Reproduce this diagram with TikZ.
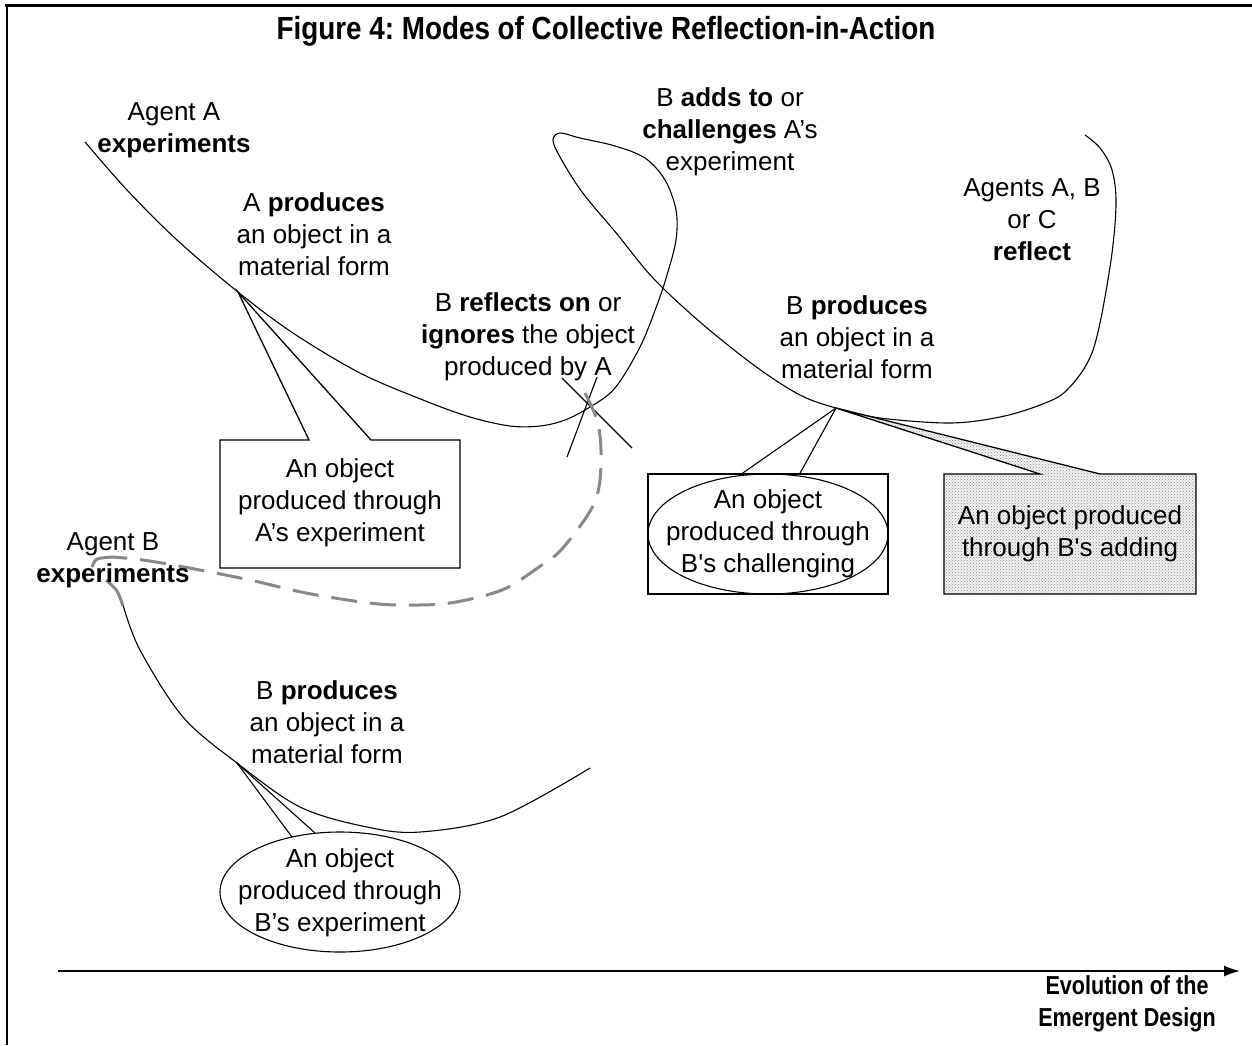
\documentclass[tikz,border=0pt]{standalone}
\usepackage{fontspec}
\setmainfont{Liberation Sans}
\newfontfamily\titlefont[FakeStretch=0.87]{Liberation Sans}
\newfontfamily\evofont[FakeStretch=0.83]{Liberation Sans}
\usetikzlibrary{arrows.meta,shapes.geometric,patterns}
\definecolor{dashgray}{HTML}{888888}
\frenchspacing
\begin{document}
\begin{tikzpicture}[x=1pt,y=-1pt,
  txt/.style={align=center,inner sep=0pt,font=\fontsize{26}{32}\selectfont},
  curveline/.style={line width=1.1pt,black},
  boxline/.style={line width=1.3pt,black},
  stipple/.style={preaction={fill=black!5},pattern=crosshatch dots,pattern color=black!45}]
\useasboundingbox (0,0) rectangle (1252,1045);
% frame
\draw[line width=3pt] (5,5) -- (1252,5);
\draw[line width=2pt] (7,4) -- (7,1045);
% title
\node[inner sep=0pt,font=\titlefont\bfseries\fontsize{32}{38}\selectfont] (title) at (606,31) {Figure 4: Modes of Collective Reflection-in-Action};
% axis
\coordinate (axL) at (58,971);
\coordinate (axR) at (1240,971);
\draw[line width=1.6pt,-{Latex[length=16pt,width=11pt]}] (axL) -- (axR);
\node[align=center,inner sep=0pt,font=\evofont\bfseries\fontsize{26}{32}\selectfont] (evo) at (1127,1004) {Evolution of the\\Emergent Design};
% junctions
\coordinate (jA) at (238,292);
\coordinate (jB) at (836,408);
\coordinate (jC) at (237,763);
% main curve
\draw[curveline] plot[smooth,tension=0.55] coordinates {(85,142) (127,190) (177,240) (238,292) (293,333) (360,373) (423,400) (470,417) (510,426) (540,426) (565,420) (590,407) (615,388) (640,347) (657,305) (667,275) (676,240) (676,210) (665,180) (645,158) (615,146) (580,138) (560,133) (553,140) (560,157) (582,192) (617,234) (653,278) (700,322) (755,366) (800,395) (836,408) (880,418) (950,423) (1000,417) (1040,405) (1067,390) (1093,350) (1110,267) (1116,205) (1112,170) (1100,148) (1085,135)};
% crossing lines
\coordinate (x1a) at (562,378); \coordinate (x1b) at (632,448);
\coordinate (x2a) at (597,377); \coordinate (x2b) at (567,457);
\draw[curveline] (x1a) -- (x1b);
\draw[curveline] (x2a) -- (x2b);
% dashed gray curve
\draw[dashgray,line width=3pt,dash pattern=on 26pt off 13pt] plot[smooth,tension=0.55] coordinates {(585,393) (597,420) (601,450) (599,487) (589,513) (561,550) (539,567) (502,590) (450,603) (406,605) (369,603) (306,593) (250,580) (184,567) (143,560) (113,557)};
\draw[dashgray,line width=3pt] plot[smooth] coordinates {(113,557) (97,559) (92,567)};
% lower curve
\draw[curveline] plot[smooth,tension=0.55] coordinates {(123,605) (140,650) (183,717) (237,763) (300,807) (367,827) (420,832) (500,817) (590,768)};
\draw[dashgray,line width=3pt] plot[smooth] coordinates {(106,580) (117,591) (123,606)};
% box A callout
\coordinate (bAnw) at (220,440); \coordinate (bAne) at (460,440);
\coordinate (bAse) at (460,568); \coordinate (bAsw) at (220,568);
\coordinate (bAp1) at (309,440); \coordinate (bAp2) at (371,440);
\draw[boxline,fill=white] (bAnw) -- (bAp1) -- (jA) -- (bAp2) -- (bAne) -- (bAse) -- (bAsw) -- cycle;
\node[txt] (tA) at (340,503) {An object\\produced through\\A’s experiment};
% challenging box + ellipse
\node[draw,boxline,minimum width=240pt,minimum height=120pt,inner sep=0pt] (boxC) at (768,534) {};
\node[draw,curveline,ellipse,minimum width=240pt,minimum height=120pt,inner sep=0pt] (ellC) at (768,534) {};
\coordinate (cp1) at (740,475); \coordinate (cp2) at (799,475);
\draw[curveline] (jB) -- (cp1);
\draw[curveline] (jB) -- (cp2);
\node[txt] (tC) at (768,534) {An object\\produced through\\B\textquotesingle s challenging};
% adding callout
\coordinate (dnw) at (944,474); \coordinate (dne) at (1196,474);
\coordinate (dse) at (1196,594); \coordinate (dsw) at (944,594);
\coordinate (dp1) at (1040,474); \coordinate (dp2) at (1100,474);
\draw[boxline,stipple] (dnw) -- (dp1) -- (jB) -- (dp2) -- (dne) -- (dse) -- (dsw) -- cycle;
\node[txt] (tD) at (1070,534) {An object produced\\through B\textquotesingle s adding};
% B experiment ellipse
\node[draw,curveline,ellipse,minimum width=240pt,minimum height=120pt,inner sep=0pt,fill=white] (ellB) at (340,892) {};
\coordinate (ep1) at (292,837); \coordinate (ep2) at (315,833);
\draw[curveline] (jC) -- (ep1);
\draw[curveline] (jC) -- (ep2);
\node[txt] (tB) at (340,893) {An object\\produced through\\B’s experiment};
% labels
\node[txt] (lAgA) at (174,130) {Agent A\\\textbf{experiments}};
\node[txt] (lAprod) at (314,234) {A \textbf{produces}\\an object in a\\material form};
\node[txt] (lBrefl) at (528,337) {B \textbf{reflects on} or\\\textbf{ignores} the object\\produced by A};
\node[txt] (lBadds) at (730,132) {B \textbf{adds to} or\\\textbf{challenges} A’s\\experiment};
\node[txt] (lAgents) at (1032,220) {Agents A, B\\or C\\\textbf{reflect}};
\node[txt] (lBprod) at (857,337) {B \textbf{produces}\\an object in a\\material form};
\node[txt] (lAgB) at (113,560) {Agent B\\\textbf{experiments}};
\node[txt] (lBprod2) at (327,722) {B \textbf{produces}\\an object in a\\material form};
\end{tikzpicture}
\end{document}
